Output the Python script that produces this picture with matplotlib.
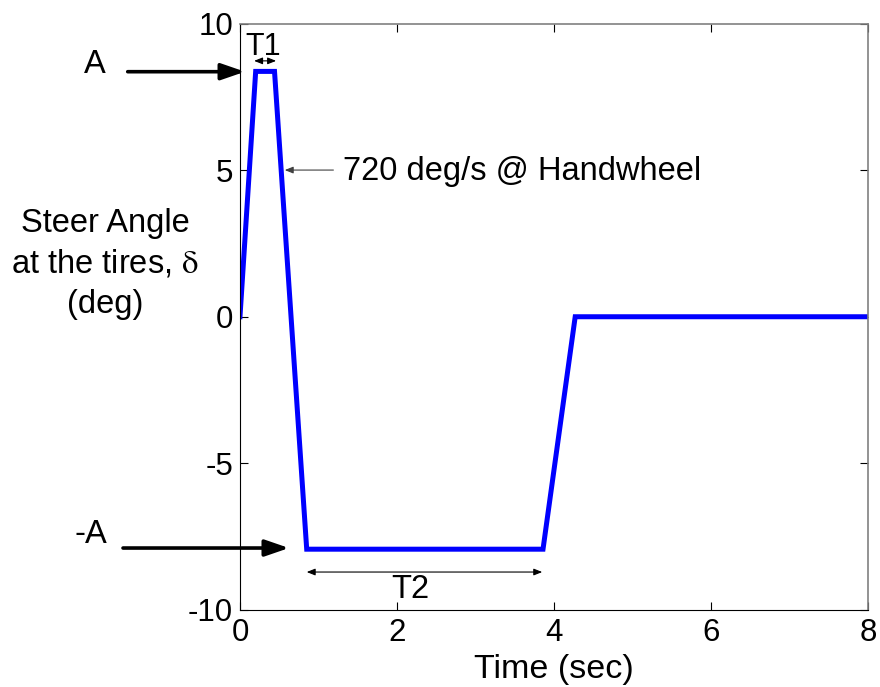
import numpy as np
import matplotlib.pyplot as plt

plt.rcParams['font.family'] = ['Liberation Sans', 'DejaVu Sans']
plt.rcParams['mathtext.fontset'] = 'stix'
plt.rcParams['axes.unicode_minus'] = False

# steer input: ramp up, hold A for T1, ramp down, hold -A for T2, ramp back to zero
t = [0, 0.2, 0.44, 0.85, 3.86, 4.27, 8.0]
delta = [0, 8.38, 8.38, -7.94, -7.94, 0, 0]

xticks = [0, 2, 4, 6, 8]
yticks = [-10, -5, 0, 5, 10]

fs = 23.5

fig = plt.figure(figsize=(8.8, 6.87), dpi=100)
ax = fig.add_axes([0.2727, 0.1128, 0.7137, 0.8523])

ax.plot(t, delta, color='#0000ff', lw=3.6, solid_joinstyle='miter')

ax.set_xlim(0, 8)
ax.set_ylim(-10, 10)
ax.set_xticks(xticks)
ax.set_yticks(yticks)
ax.tick_params(direction='in', length=6, width=0.8, labelsize=22.5,
               top=True, right=True)
ax.tick_params(axis='y', pad=5)
ax.tick_params(axis='x', pad=6)
for side in ['top', 'right']:
    ax.spines[side].set_color('#808080')
    ax.spines[side].set_linewidth(1.2)
for side in ['left', 'bottom']:
    ax.spines[side].set_linewidth(0.8)

# A and -A level arrows
big = dict(arrowstyle='-|>,head_length=1.45,head_width=0.5', color='black',
           lw=2.6, shrinkA=0, shrinkB=0)
ax.annotate('', xy=(0.064, 8.37), xytext=(-1.43, 8.37), arrowprops=big,
            annotation_clip=False)
ax.annotate('', xy=(0.624, -7.90), xytext=(-1.49, -7.90), arrowprops=big,
            annotation_clip=False)
ax.text(-1.85, 8.33, 'A', fontsize=fs, ha='center', va='baseline', clip_on=False)
ax.text(-1.694, -7.73, '-A', fontsize=fs, ha='right', va='baseline', clip_on=False)

# T1 / T2 duration markers
small = dict(arrowstyle='<|-|>,head_length=0.5,head_width=0.2', color='black',
             lw=0.8, shrinkA=0, shrinkB=0)
ax.annotate('', xy=(0.46, 8.74), xytext=(0.18, 8.74), arrowprops=small)
ax.text(0.293, 8.94, 'T1', fontsize=22, ha='center', va='baseline')
ax.annotate('', xy=(3.85, -8.72), xytext=(0.85, -8.72), arrowprops=small)
ax.text(2.166, -9.61, 'T2', fontsize=fs, ha='center', va='baseline')

# ramp rate note
ax.annotate('', xy=(0.57, 5.01), xytext=(1.19, 5.01),
            arrowprops=dict(arrowstyle='-|>,head_length=0.5,head_width=0.2',
                            color='#404040', lw=0.8, shrinkA=0, shrinkB=0))
ax.text(1.312, 4.67, '720 deg/s @ Handwheel', fontsize=fs, ha='left', va='baseline')

fig.text(105 / 880, 1 - 232 / 687, 'Steer Angle', fontsize=fs, ha='center', va='baseline')
fig.text(105 / 880, 1 - 273 / 687, r'at the tires, $\mathrm{\delta}$', fontsize=fs,
         ha='center', va='baseline')
fig.text(105 / 880, 1 - 313 / 687, '(deg)', fontsize=fs, ha='center', va='baseline')

fig.text(554 / 880, 1 - 678 / 687, 'Time (sec)', fontsize=24.5, ha='center', va='baseline')

fig.savefig('out.png', dpi=100)
